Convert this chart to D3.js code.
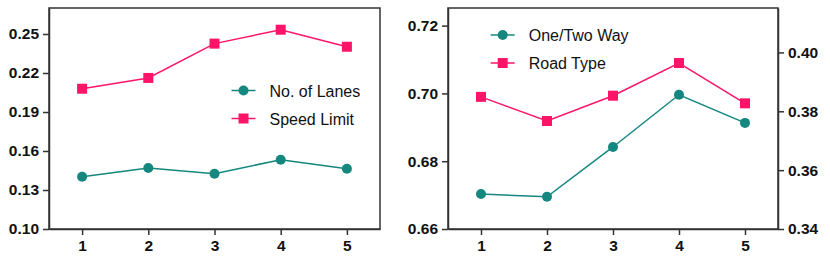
<!DOCTYPE html>
<html>
<head>
<meta charset="utf-8">
<script src="https://cdn.jsdelivr.net/npm/d3@7"></script>
<style>
  body { margin: 0; background: #fff; }
  .tick text { font-family: "Liberation Sans", Arial, sans-serif; font-weight: bold; font-size: 15.5px; fill: #111; }
  .legend text { font-family: "Liberation Sans", Arial, sans-serif; font-size: 16px; fill: #111; }
</style>
</head>
<body>
<div id="chart"></div>
<script>
var svgWidth = 830;
var svgHeight = 258;

// data
var steps = [1, 2, 3, 4, 5];
var lanes = [0.1402, 0.1469, 0.1425, 0.1533, 0.1464];
var speedLimit = [0.2079, 0.2162, 0.2426, 0.2533, 0.2402];
var oneTwoWay = [0.6703, 0.6695, 0.6842, 0.6996, 0.6913];
var roadType = [0.3849, 0.3767, 0.3853, 0.3964, 0.3827];

var leftTicks = [0.10, 0.13, 0.16, 0.19, 0.22, 0.25];
var rightLeftTicks = [0.66, 0.68, 0.70, 0.72];
var rightRightTicks = [0.34, 0.36, 0.38, 0.40];

var teal = "#14877f";
var pink = "#ff1469";

var svg = d3.select("#chart")
  .append("svg")
  .attr("width", svgWidth)
  .attr("height", svgHeight);

var plotTop = 8, plotBottom = 229;

function styleAxis(a) {
  a.select(".domain").attr("stroke", "#333").attr("stroke-width", 1.5);
  a.selectAll(".tick line").attr("stroke", "#333").attr("stroke-width", 1.5);
}

function drawPanel(x0, x1) {
  var g = svg.append("g");
  var x = d3.scaleLinear().domain([0.5, 5.5]).range([x0, x1]);
  g.append("rect")
    .attr("x", x0).attr("y", plotTop)
    .attr("width", x1 - x0).attr("height", plotBottom - plotTop)
    .attr("fill", "none")
    .attr("stroke", "#333")
    .attr("stroke-width", 1.5);
  g.append("g")
    .attr("transform", "translate(0," + plotBottom + ")")
    .call(d3.axisBottom(x).tickValues(steps).tickSize(6).tickSizeOuter(0).tickPadding(5).tickFormat(d3.format("d")))
    .call(styleAxis);
  return { g: g, x: x };
}

function drawSeries(g, x, y, values, color, shape) {
  var line = d3.line()
    .x(function(d, i) { return x(steps[i]); })
    .y(function(d) { return y(d); });
  g.append("path")
    .datum(values)
    .attr("d", line)
    .attr("fill", "none")
    .attr("stroke", color)
    .attr("stroke-width", 1.5);
  if (shape === "circle") {
    g.selectAll(null).data(values).enter().append("circle")
      .attr("cx", function(d, i) { return x(steps[i]); })
      .attr("cy", function(d) { return y(d); })
      .attr("r", 5)
      .attr("fill", color);
  } else {
    g.selectAll(null).data(values).enter().append("rect")
      .attr("x", function(d, i) { return x(steps[i]) - 5; })
      .attr("y", function(d) { return y(d) - 5; })
      .attr("width", 10).attr("height", 10)
      .attr("fill", color);
  }
}

function drawLegend(g, lx, ly, items) {
  var leg = g.append("g").attr("class", "legend");
  items.forEach(function(it, i) {
    var yy = ly + i * 28;
    leg.append("line")
      .attr("x1", lx - 12).attr("x2", lx + 12)
      .attr("y1", yy).attr("y2", yy)
      .attr("stroke", it.color).attr("stroke-width", 1.5);
    if (it.shape === "circle") {
      leg.append("circle").attr("cx", lx).attr("cy", yy).attr("r", 5).attr("fill", it.color);
    } else {
      leg.append("rect").attr("x", lx - 5).attr("y", yy - 5).attr("width", 10).attr("height", 10).attr("fill", it.color);
    }
    leg.append("text")
      .attr("x", lx + 26).attr("y", yy + 6)
      .text(it.label);
  });
}

// left panel
var p1 = drawPanel(49, 380);
var y1 = d3.scaleLinear().domain([0.10, 0.27]).range([plotBottom, plotTop]);
p1.g.append("g")
  .attr("transform", "translate(49,0)")
  .call(d3.axisLeft(y1).tickValues(leftTicks).tickSize(6).tickSizeOuter(0).tickPadding(4).tickFormat(d3.format(".2f")))
  .call(styleAxis);
drawSeries(p1.g, p1.x, y1, lanes, teal, "circle");
drawSeries(p1.g, p1.x, y1, speedLimit, pink, "square");
drawLegend(p1.g, 243.5, 90.5, [
  { label: "No. of Lanes", color: teal, shape: "circle" },
  { label: "Speed Limit", color: pink, shape: "square" }
]);

// right panel
var p2 = drawPanel(448, 778);
var y2 = d3.scaleLinear().domain([0.66, 0.7252]).range([plotBottom, plotTop]);
var y3 = d3.scaleLinear().domain([0.34, 0.4151]).range([plotBottom, plotTop]);
p2.g.append("g")
  .attr("transform", "translate(448,0)")
  .call(d3.axisLeft(y2).tickValues(rightLeftTicks).tickSize(6).tickSizeOuter(0).tickPadding(4).tickFormat(d3.format(".2f")))
  .call(styleAxis);
p2.g.append("g")
  .attr("transform", "translate(778,0)")
  .call(d3.axisRight(y3).tickValues(rightRightTicks).tickSize(6).tickSizeOuter(0).tickPadding(4).tickFormat(d3.format(".2f")))
  .call(styleAxis);
drawSeries(p2.g, p2.x, y2, oneTwoWay, teal, "circle");
drawSeries(p2.g, p2.x, y3, roadType, pink, "square");
drawLegend(p2.g, 502.7, 35, [
  { label: "One/Two Way", color: teal, shape: "circle" },
  { label: "Road Type", color: pink, shape: "square" }
]);
</script>
</body>
</html>
